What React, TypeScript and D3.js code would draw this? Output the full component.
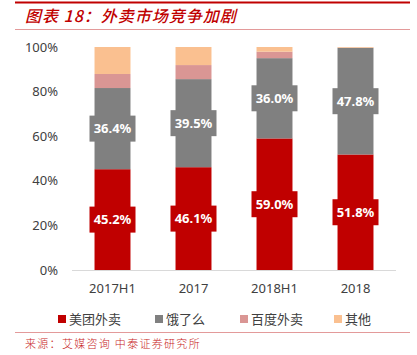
import React from "react";
import * as d3 from "d3";

const categories = ["2017H1", "2017", "2018H1", "2018"];
const seriesNames = ["美团外卖", "饿了么", "百度外卖", "其他"];
const meituan = [45.2, 46.1, 59.0, 51.8];
const eleme = [36.4, 39.5, 36.0, 47.8];
const baidu = [6.3, 6.3, 2.9, 0.1];
const others = [12.1, 8.1, 2.1, 0.3];
const yTicks = [0, 20, 40, 60, 80, 100];
const colors = ["#C00000", "#808080", "#DA9694", "#FAC090"];
const labelled = [true, true, false, false];

const W = 417;
const H = 355;
const FONT = "'Noto Sans', 'Noto Sans CJK SC', sans-serif";

export default function App() {
  const rows = categories.map((c, i) => ({
    cat: c,
    s0: meituan[i],
    s1: eleme[i],
    s2: baidu[i],
    s3: others[i],
  }));
  const keys = ["s0", "s1", "s2", "s3"];
  const stacked = d3.stack<any>().keys(keys)(rows);

  const x = d3.scaleBand().domain(categories).range([72, 396]).paddingInner(0.556).paddingOuter(0.278);
  const y = d3.scaleLinear().domain([0, 100]).range([270, 47]);

  return (
    <svg width={W} height={H} style={{ position: "absolute", left: 0, top: 0, background: "#fff" }}>
      {/* header */}
      <line x1={15} x2={410} y1={2.5} y2={2.5} stroke="#C00000" strokeWidth={2} />
      <text x={25} y={22} fontFamily="'Noto Sans CJK SC', sans-serif" fontSize={16} fontWeight={500} fontStyle="italic" fill="#C00000" letterSpacing={1}>
        图表 18：外卖市场竞争加剧
      </text>
      <line x1={15} x2={410} y1={29.5} y2={29.5} stroke="#E39A9A" strokeWidth={1} />

      {/* y axis labels */}
      {yTicks.map((t) => (
        <text key={t} x={58} y={y(t)} dy="0.35em" textAnchor="end" fontFamily={FONT} fontSize={13} fill="#404040">
          {t}%
        </text>
      ))}

      {/* bars */}
      {stacked.map((layer, li) => (
        <g key={layer.key} fill={colors[li]}>
          {layer.map((d, i) => {
            const y0 = y(d[0]);
            const y1 = y(d[1]);
            return <rect key={i} x={x(categories[i])} width={x.bandwidth()} y={y1} height={Math.max(0, y0 - y1)} />;
          })}
        </g>
      ))}

      {/* axis line */}
      <line x1={72} x2={396} y1={270.5} y2={270.5} stroke="#D9D9D9" strokeWidth={1} />

      {/* labels */}
      {stacked.map((layer, li) =>
        labelled[li]
          ? layer.map((d, i) => {
              const cx = (x(categories[i]) as number) + x.bandwidth() / 2;
              const cy = y((d[0] + d[1]) / 2);
              const val = (d[1] - d[0]).toFixed(1) + "%";
              return (
                <g key={`${li}-${i}`}>
                  <rect x={cx - 23} y={cy - 13} width={46} height={26} fill={colors[li]} />
                  <text x={cx} y={cy} dy="0.36em" textAnchor="middle" fontFamily={FONT} fontSize={13} fontWeight="bold" fill="#fff">
                    {val}
                  </text>
                </g>
              );
            })
          : null
      )}

      {/* x labels */}
      {categories.map((c) => (
        <text key={c} x={(x(c) as number) + x.bandwidth() / 2} y={288} dy="0.35em" textAnchor="middle" fontFamily={FONT} fontSize={13} fill="#404040">
          {c}
        </text>
      ))}

      {/* legend */}
      {seriesNames.map((n, i) => {
        const lx = [58, 155, 240, 334][i];
        return (
          <g key={n} transform={`translate(${lx},319)`}>
            <rect x={0} y={-4} width={8} height={8} fill={colors[i]} />
            <text x={11} y={0} dy="0.36em" fontFamily="'Noto Sans CJK SC', sans-serif" fontSize={13} fill="#404040">
              {n}
            </text>
          </g>
        );
      })}

      {/* footer */}
      <line x1={15} x2={410} y1={332.5} y2={332.5} stroke="#E39A9A" strokeWidth={1} />
      <text x={25} y={348} fontFamily="'Noto Sans CJK SC', serif" fontSize={11} fontWeight={300} fill="#C81E1E" letterSpacing={1.3}>
        来源：艾媒咨询 中泰证券研究所
      </text>
    </svg>
  );
}
